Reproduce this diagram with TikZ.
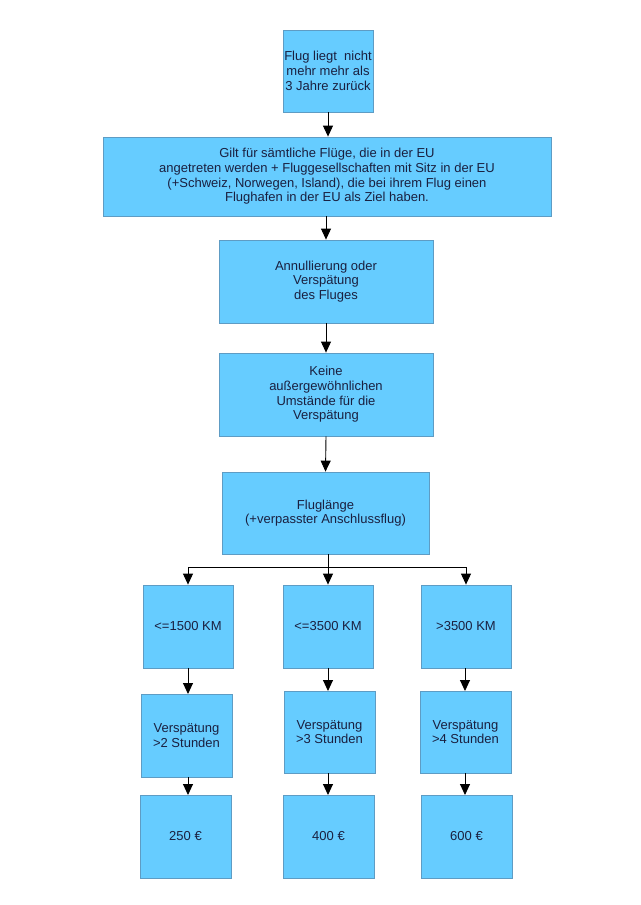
\documentclass[tikz,border=0pt]{standalone}
\usepackage{fontspec}
\setmainfont{Liberation Sans}
\usetikzlibrary{arrows.meta}
\definecolor{boxfill}{HTML}{66CCFF}
\definecolor{boxline}{HTML}{5E9CC4}
\definecolor{boxtext}{HTML}{1A2040}
\begin{document}
\begin{tikzpicture}[x=1pt,y=-1pt,
  box/.style={draw=boxline,fill=boxfill,line width=0.8pt,text=boxtext,align=center,
    inner sep=0pt,font=\fontsize{13}{14.7}\selectfont},
  arr/.style={line width=0.9pt,-{Triangle[length=11pt,width=10pt]}},
  ln/.style={line width=0.9pt}]
\useasboundingbox[fill=white] (0,0) rectangle (640,905);
\newcommand{\bx}[6]{\node[box,minimum width=#4-#2,minimum height=#5-#3] (#1) at ({(#2+#4)/2},{(#3+#5)/2}) {#6};}
\bx{a}{283}{30}{373}{112}{Flug liegt\ \ nicht\\mehr mehr als\\3 Jahre zurück}
\bx{b}{103}{137}{551}{216}{Gilt für sämtliche Flüge, die in der EU\\angetreten werden + Fluggesellschaften mit Sitz in der EU\\(+Schweiz, Norwegen, Island), die bei ihrem Flug einen\\Flughafen in der EU als Ziel haben.}
\bx{c}{219}{240}{433}{323}{Annullierung oder\\Verspätung\\des Fluges}
\bx{d}{219}{353}{433}{436}{Keine\\außergewöhnlichen\\Umstände für die\\Verspätung}
\bx{e}{222}{472}{429}{554}{Fluglänge\\(+verpasster Anschlussflug)}
\bx{k1}{143}{585}{233}{668}{<=1500 KM}
\bx{k2}{283}{585}{373}{668}{<=3500 KM}
\bx{k3}{421}{585}{511}{668}{>3500 KM}
\bx{v1}{141}{694}{232}{777}{Verspätung\\>2 Stunden}
\bx{v2}{284}{691}{375}{773}{Verspätung\\>3 Stunden}
\bx{v3}{420}{691}{511}{773}{Verspätung\\>4 Stunden}
\bx{p1}{140}{795}{231}{878}{250 €}
\bx{p2}{283}{795}{374}{878}{400 €}
\bx{p3}{421}{795}{512}{878}{600 €}
\coordinate (j) at (328,567);
\draw[arr] (a.south) -- (a.south |- b.north);
\draw[arr] (b.south -| c.north) -- (c.north);
\draw[arr] (c.south) -- (d.north);
\draw[arr] (d.south) -- (e.north);
\draw[ln] (e.south -| j) -- (j);
\draw[arr] (j) -| (k1.north);
\draw[arr] (j) -- (j |- k2.north);
\draw[arr] (j) -| (k3.north);
\draw[arr] (k1.south -| 188,0) -- (188,694);
\draw[arr] (k2.south -| 328,0) -- (328,691);
\draw[arr] (k3.south -| 465,0) -- (465,691);
\draw[arr] (v1.south -| 188,0) -- (188,795);
\draw[arr] (v2.south -| 328,0) -- (328,795);
\draw[arr] (v3.south -| 465,0) -- (465,795);
\end{tikzpicture}
\end{document}
